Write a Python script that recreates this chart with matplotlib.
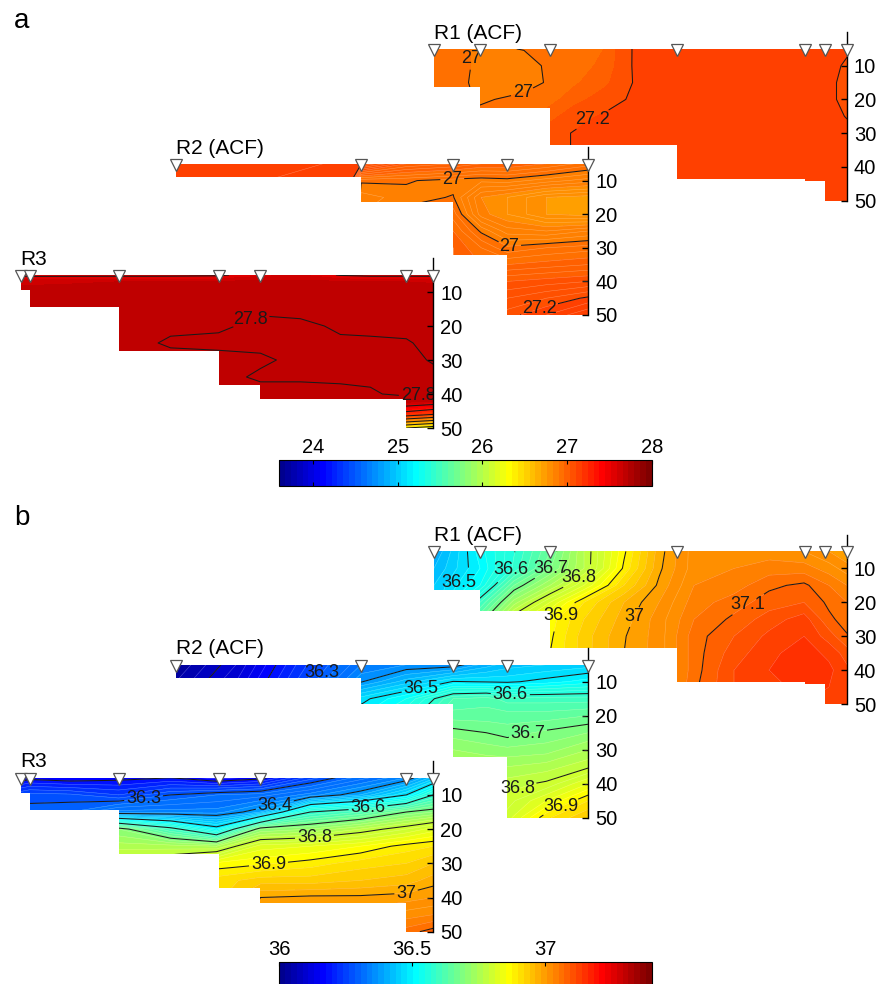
import numpy as np
import matplotlib
matplotlib.use('Agg')
import matplotlib.pyplot as plt
from matplotlib.patches import Polygon
from matplotlib.colors import Normalize, ListedColormap

plt.rcParams['font.family'] = ['Liberation Sans', 'DejaVu Sans']

# ---- section geometry: station positions (km) and bottom depth of each segment (m)
r1_stations = [0, 4.6, 11.6, 24.3, 37.1, 39.1, 41.3]
r1_bottom = [16.3, 22.5, 33.5, 43.5, 44.2, 50]
r2_stations = [0, 18.5, 27.7, 33.1, 41.2]
r2_bottom = [9, 16.5, 32, 50]
r3_stations = [0, 0.9, 9.8, 19.8, 24.0, 38.6, 41.3]
r3_bottom = [9.4, 14.3, 27.3, 37.3, 41.5, 50]

depths = [5, 10, 15, 20, 25, 30, 35, 40, 45, 50]

# ---- panel a: temperature (C)
r1a_x = [0, 4.6, 9, 11.6, 14, 17, 20, 24.3, 30, 37.1, 41.3]
r1a_val = [
    [27.04, 26.99, 27.002, 27.02, 27.03, 27.06, 27.21, 27.23, 27.23, 27.23, 27.205],
    [27.04, 26.99, 26.98, 27.01, 27.04, 27.07, 27.21, 27.23, 27.23, 27.23, 27.195],
    [27.03, 26.99, 26.985, 27.005, 27.05, 27.10, 27.205, 27.23, 27.23, 27.23, 27.19],
    [27.03, 26.995, 27.01, 27.04, 27.09, 27.16, 27.215, 27.23, 27.23, 27.23, 27.19],
    [27.03, 27.01, 27.03, 27.09, 27.17, 27.21, 27.22, 27.23, 27.23, 27.23, 27.198],
    [27.03, 27.01, 27.03, 27.17, 27.205, 27.22, 27.22, 27.23, 27.23, 27.23, 27.21],
    [27.03, 27.01, 27.03, 27.17, 27.205, 27.22, 27.22, 27.23, 27.23, 27.23, 27.22],
    [27.03, 27.01, 27.03, 27.17, 27.205, 27.22, 27.22, 27.23, 27.23, 27.23, 27.22],
    [27.03, 27.01, 27.03, 27.17, 27.205, 27.22, 27.22, 27.23, 27.23, 27.23, 27.22],
    [27.03, 27.01, 27.03, 27.17, 27.205, 27.22, 27.22, 27.23, 27.23, 27.23, 27.22],
]
r1a_labels = [(3.7, 8), (8.8, 17.5), (15.6, 25)]

r2a_x = [0, 9, 17.5, 18.5, 23, 27.7, 30.5, 33.1, 37, 41.2]
r2a_val = [
    [27.24, 27.23, 27.215, 27.205, 27.12, 27.10, 27.08, 27.08, 27.06, 27.03],
    [27.23, 27.22, 27.21, 27.005, 27.003, 26.99, 26.985, 26.99, 26.97, 26.95],
    [27.23, 27.22, 27.21, 26.97, 26.99, 27.002, 26.92, 26.90, 26.86, 26.85],
    [27.23, 27.22, 27.21, 26.98, 27.01, 27.03, 26.93, 26.90, 26.86, 26.85],
    [27.23, 27.22, 27.21, 26.98, 27.01, 27.06, 26.995, 26.95, 26.94, 26.96],
    [27.23, 27.22, 27.21, 26.98, 27.01, 27.08, 27.04, 27.005, 27.02, 27.03],
    [27.23, 27.22, 27.21, 26.98, 27.01, 27.08, 27.06, 27.06, 27.07, 27.08],
    [27.23, 27.22, 27.21, 26.98, 27.01, 27.08, 27.08, 27.12, 27.13, 27.14],
    [27.23, 27.22, 27.21, 26.98, 27.01, 27.08, 27.08, 27.16, 27.18, 27.205],
    [27.23, 27.22, 27.21, 26.98, 27.01, 27.08, 27.08, 27.19, 27.22, 27.26],
]
r2a_labels = [(27.6, 9.3), (33.3, 29.8), (36.2, 47.3)]

r3a_x = [0, 5, 9.8, 12.5, 15, 19.8, 24, 28, 32, 35, 38.6, 41.3]
r3a_z = [5, 7, 10, 15, 20, 25, 30, 35, 40, 42, 46, 50]
r3a_val = [
    [27.57, 27.57, 27.57, 27.57, 27.57, 27.58, 27.66, 27.68, 27.59, 27.57, 27.57, 27.57],
    [27.72, 27.73, 27.74, 27.74, 27.75, 27.75, 27.76, 27.76, 27.75, 27.74, 27.74, 27.73],
    [27.77, 27.775, 27.78, 27.78, 27.785, 27.785, 27.79, 27.79, 27.79, 27.79, 27.79, 27.79],
    [27.785, 27.79, 27.792, 27.795, 27.795, 27.796, 27.798, 27.796, 27.796, 27.796, 27.796, 27.796],
    [27.79, 27.792, 27.795, 27.796, 27.797, 27.798, 27.803, 27.803, 27.798, 27.797, 27.797, 27.797],
    [27.792, 27.793, 27.796, 27.798, 27.802, 27.803, 27.803, 27.803, 27.802, 27.802, 27.801, 27.797],
    [27.792, 27.793, 27.796, 27.796, 27.795, 27.796, 27.798, 27.803, 27.803, 27.803, 27.803, 27.799],
    [27.792, 27.793, 27.796, 27.796, 27.795, 27.796, 27.802, 27.802, 27.802, 27.803, 27.804, 27.803],
    [27.792, 27.793, 27.796, 27.796, 27.795, 27.795, 27.795, 27.795, 27.797, 27.798, 27.804, 27.804],
    [27.792, 27.793, 27.796, 27.796, 27.795, 27.795, 27.795, 27.795, 27.797, 27.797, 27.79, 27.75],
    [27.792, 27.793, 27.796, 27.796, 27.795, 27.795, 27.795, 27.795, 27.797, 27.797, 27.30, 27.20],
    [27.792, 27.793, 27.796, 27.796, 27.795, 27.795, 27.795, 27.795, 27.797, 27.797, 26.40, 26.30],
]
r3a_labels = [(23.2, 19.0), (39.8, 41.0)]

# ---- panel b: salinity
r1b_x = [0, 4.6, 8, 11.6, 15, 19, 22.5, 26, 30, 33.5, 37, 39.5, 41.3]
r1b_val = [
    [36.42, 36.53, 36.598, 36.68, 36.78, 36.895, 36.99, 37.05, 37.05, 37.05, 37.04, 37.02, 37.00],
    [36.44, 36.52, 36.605, 36.698, 36.78, 36.905, 36.995, 37.05, 37.06, 37.07, 37.07, 37.05, 37.03],
    [36.46, 36.54, 36.68, 36.76, 36.84, 36.94, 37.005, 37.06, 37.07, 37.095, 37.105, 37.08, 37.06],
    [36.46, 36.62, 36.75, 36.84, 36.92, 36.98, 37.02, 37.07, 37.09, 37.11, 37.12, 37.095, 37.08],
    [36.46, 36.68, 36.82, 36.89, 36.94, 36.99, 37.03, 37.08, 37.105, 37.13, 37.15, 37.105, 37.09],
    [36.46, 36.68, 36.82, 36.895, 36.95, 36.998, 37.03, 37.09, 37.12, 37.145, 37.16, 37.13, 37.102],
    [36.46, 36.68, 36.82, 36.90, 36.95, 37.00, 37.03, 37.09, 37.13, 37.155, 37.17, 37.155, 37.13],
    [36.46, 36.68, 36.82, 36.90, 36.95, 37.00, 37.03, 37.09, 37.14, 37.16, 37.175, 37.165, 37.145],
    [36.46, 36.68, 36.82, 36.90, 36.95, 37.00, 37.03, 37.095, 37.14, 37.155, 37.165, 37.16, 37.15],
    [36.46, 36.68, 36.82, 36.90, 36.95, 37.00, 37.03, 37.095, 37.14, 37.15, 37.16, 37.155, 37.15],
]
r1b_labels = [(2.6, 14.4), (7.8, 10.5), (11.9, 10.5), (14.6, 12.9), (12.6, 23.7),
              (19.9, 24.2), (31.6, 21.3)]

r2b_x = [0, 6, 12, 18.5, 23, 27.7, 31, 33.1, 37, 41.2]
r2b_val = [
    [36.04, 36.12, 36.24, 36.36, 36.38, 36.385, 36.43, 36.45, 36.46, 36.47],
    [36.06, 36.14, 36.26, 36.398, 36.45, 36.502, 36.498, 36.495, 36.51, 36.53],
    [36.06, 36.14, 36.26, 36.49, 36.54, 36.64, 36.65, 36.63, 36.63, 36.63],
    [36.06, 36.14, 36.26, 36.52, 36.58, 36.67, 36.67, 36.67, 36.67, 36.68],
    [36.06, 36.14, 36.26, 36.52, 36.58, 36.71, 36.70, 36.69, 36.705, 36.72],
    [36.06, 36.14, 36.26, 36.52, 36.58, 36.74, 36.73, 36.725, 36.73, 36.76],
    [36.06, 36.14, 36.26, 36.52, 36.58, 36.76, 36.76, 36.76, 36.77, 36.795],
    [36.06, 36.14, 36.26, 36.52, 36.58, 36.76, 36.76, 36.79, 36.805, 36.86],
    [36.06, 36.14, 36.26, 36.52, 36.58, 36.76, 36.76, 36.81, 36.86, 36.92],
    [36.06, 36.14, 36.26, 36.52, 36.58, 36.76, 36.76, 36.83, 36.915, 36.96],
]
r2b_labels = [(15.2, 8.5), (24.4, 11.3), (33.4, 13.4), (35.2, 25.7), (34.3, 42.4), (38.4, 46.6)]

r3b_x = [0, 0.9, 5, 9.8, 15, 19.6, 24, 29, 34, 38.6, 41.3]
r3b_val = [
    [36.18, 36.19, 36.18, 36.19, 36.20, 36.17, 36.19, 36.27, 36.33, 36.38, 36.45],
    [36.28, 36.29, 36.285, 36.26, 36.30, 36.32, 36.33, 36.37, 36.42, 36.50, 36.60],
    [36.28, 36.31, 36.32, 36.37, 36.37, 36.37, 36.42, 36.60, 36.64, 36.70, 36.72],
    [36.28, 36.31, 36.32, 36.72, 36.62, 36.52, 36.72, 36.74, 36.78, 36.82, 36.85],
    [36.28, 36.31, 36.32, 36.77, 36.77, 36.76, 36.85, 36.86, 36.88, 36.91, 36.92],
    [36.28, 36.31, 36.32, 36.82, 36.83, 36.885, 36.895, 36.91, 36.93, 36.94, 36.96],
    [36.28, 36.31, 36.32, 36.82, 36.83, 36.93, 36.95, 36.95, 36.96, 36.97, 36.99],
    [36.28, 36.31, 36.32, 36.82, 36.83, 36.93, 37.00, 37.005, 37.005, 37.01, 37.02],
    [36.28, 36.31, 36.32, 36.82, 36.83, 36.93, 37.02, 37.03, 37.03, 37.05, 37.06],
    [36.28, 36.31, 36.32, 36.82, 36.83, 36.93, 37.02, 37.03, 37.03, 37.09, 37.11],
]
r3b_labels = [(12.3, 11.0), (25.3, 11.5), (34.8, 14.4), (29.4, 22.2), (24.8, 30.2), (38.6, 39.0)]

# colour scales (range, ticks, colour lag of filled bands)
temp_range = (23.6, 28.0)
temp_ticks = [24, 25, 26, 27, 28]
temp_lag = 0.09
sal_range = (36.0, 37.4)
sal_ticks = [36, 36.5, 37]
sal_lag = 0.022


def matlab_jet(n=64):
    m = n // 4
    u = np.concatenate([np.arange(1, m + 1) / m, np.ones(m - 1), np.arange(m, 0, -1) / m])
    g = int(np.ceil(m / 2)) - (1 if n % 4 == 1 else 0) + np.arange(1, len(u) + 1) - 1
    r = g + m
    b = g - m
    rgb = np.zeros((n, 3))
    rgb[r[r < n], 0] = u[r < n]
    rgb[g[g < n], 1] = u[g < n]
    rgb[b[b >= 0], 2] = u[b >= 0]
    return ListedColormap(rgb)


cmap = matlab_jet(64)

fig = plt.figure(figsize=(8.77, 9.84), dpi=100)
W, H = 877.0, 984.0


def add_ax(left, top, width, height):
    return fig.add_axes([left / W, 1 - (top + height) / H, width / W, height / H])


def draw_section(ax, stations, bottom, xg, zg, vals, vrange, lag, line_levels,
                 labels, title, fine=True):
    L = stations[-1]
    verts = [(0, 5), (L, 5)]
    for i in range(len(bottom) - 1, -1, -1):
        verts.append((stations[i + 1], bottom[i]))
        verts.append((stations[i], bottom[i]))
    poly = Polygon(verts, closed=True, transform=ax.transData,
                   facecolor='none', edgecolor='none')
    ax.add_patch(poly)

    X, Z = np.meshgrid(xg, zg)
    V = np.array(vals)
    vmin, vmax = vrange
    fill_norm = Normalize(vmin + lag, vmax + lag)
    levels = np.arange(vmin, vmax + 0.01, 0.02)
    cf = ax.contourf(X, Z, V, levels=levels, cmap=cmap, norm=fill_norm, extend='both')
    cf.set_clip_path(poly)
    if fine:
        cw = ax.contour(X, Z, V, levels=levels, colors='white', linewidths=0.35, alpha=0.35)
        cw.set_clip_path(poly)
    cl = ax.contour(X, Z, V, levels=line_levels, colors='#1a1a1a', linewidths=0.75)
    cl.set_clip_path(poly)
    txts = ax.clabel(cl, manual=labels, inline=True, inline_spacing=2,
                     fontsize=13, fmt='%g')
    for t in txts:
        t.set_rotation(0)

    ax.plot(stations, [5.3] * len(stations), 'v', ms=9, mfc='white', mec='#555555',
            mew=0.9, clip_on=False, zorder=6)
    ax.text(0, 0.3, title, fontsize=15, ha='left', va='center')

    ax.set_xlim(0, L)
    ax.set_ylim(50, 0)
    ax.patch.set_alpha(0)
    for s in ['left', 'top', 'bottom']:
        ax.spines[s].set_visible(False)
    ax.spines['right'].set_linewidth(1.0)
    ax.set_xticks([])
    ax.yaxis.tick_right()
    ax.set_yticks([10, 20, 30, 40, 50])
    ax.tick_params(axis='y', direction='in', length=4, width=1, labelsize=14.5, pad=5)


def add_colorbar(top, vrange, ticks):
    cax = add_ax(279.3, top, 372.4, 26)
    sm = plt.cm.ScalarMappable(norm=Normalize(*vrange), cmap=cmap)
    cb = fig.colorbar(sm, cax=cax, orientation='horizontal', ticks=ticks, format='%g')
    cax.tick_params(direction='in', length=3, width=0.8, labelsize=14.5, top=True,
                    bottom=True, labeltop=True, labelbottom=False, pad=2)
    cb.outline.set_linewidth(0.8)


lines_t = np.round(np.arange(24.0, 28.01, 0.2), 1)
lines_s = np.round(np.arange(36.1, 37.35, 0.1), 1)

# panel a
ax = add_ax(434, 32, 413, 168.5)
draw_section(ax, r1_stations, r1_bottom, r1a_x, depths, r1a_val, temp_range, temp_lag,
             lines_t, r1a_labels, 'R1 (ACF)', fine=False)
ax = add_ax(176, 147, 412.3, 168)
draw_section(ax, r2_stations, r2_bottom, r2a_x, depths, r2a_val, temp_range, temp_lag,
             lines_t, r2a_labels, 'R2 (ACF)')
ax = add_ax(20.7, 258, 412.6, 170)
draw_section(ax, r3_stations, r3_bottom, r3a_x, r3a_z, r3a_val, temp_range, temp_lag,
             lines_t, r3a_labels, 'R3', fine=False)
add_colorbar(460, temp_range, temp_ticks)

# panel b
ax = add_ax(434, 534.5, 413, 169.5)
draw_section(ax, r1_stations, r1_bottom, r1b_x, depths, r1b_val, sal_range, sal_lag,
             lines_s, r1b_labels, 'R1 (ACF)')
ax = add_ax(176, 647.7, 412.3, 170)
draw_section(ax, r2_stations, r2_bottom, r2b_x, depths, r2b_val, sal_range, sal_lag,
             lines_s, r2b_labels, 'R2 (ACF)')
ax = add_ax(20.7, 760.7, 412.6, 171)
draw_section(ax, r3_stations, r3_bottom, r3b_x, depths, r3b_val, sal_range, sal_lag,
             lines_s, r3b_labels, 'R3')
add_colorbar(962, sal_range, sal_ticks)

fig.text(21.5 / W, 1 - 21 / H, 'a', fontsize=20, ha='center', va='center')
fig.text(21.5 / W, 1 - 518 / H, 'b', fontsize=20, ha='center', va='center')

fig.savefig('out.png', dpi=100)
